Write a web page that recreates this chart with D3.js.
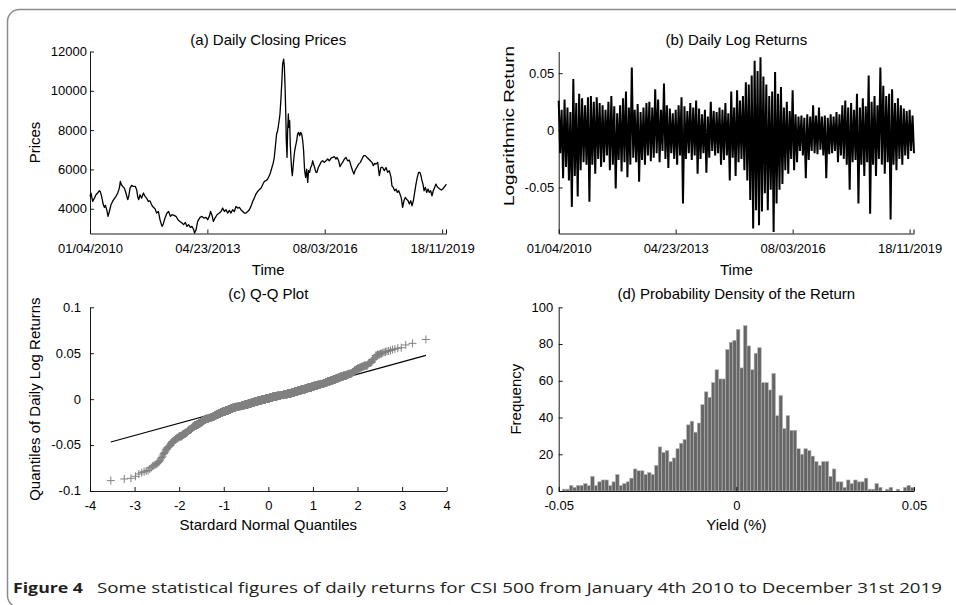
<!DOCTYPE html>
<html lang="en">
<head>
<meta charset="UTF-8" />
<title>CSI 500 daily returns</title>
<script src="https://d3js.org/d3.v7.min.js"></script>
<style>
  body { margin: 0; background: #fff; }
  svg { display: block; background: #fff; }
  text { font-family: "Liberation Sans", Arial, sans-serif; fill: #000; }
  .tick text { font-size: 13px; }
  .title, .label { font-size: 15px; }
  .caption { font-family: "Open Sans", "Noto Sans", sans-serif; font-size: 15px; fill: #231f20; }
</style>
</head>
<body>
<svg id="fig" width="956" height="605"></svg>
<script>
// ---- data ----
const timeTickDays = [1, 801, 1601, 2401];
const timeTickLabels = ["01/04/2010", "04/23/2013", "08/03/2016", "18/11/2019"];
const nDays = 2431;

// (a) closing prices, sampled [trading day, price]
const priceDay = [1,8,19,31,42,53,65,71,80,92,99,106,115,124,133,144,155,167,178,190,201,208,215,224,235,246,258,265,274,285,296,310,319,326,333,342,353,365,376,387,399,410,421,433,444,455,467,478,492,501,512,526,537,549,560,574,587,601,614,628,639,651,662,673,685,696,708,714,724,735,751,764,778,792,803,814,823,833,842,853,867,883,894,905,917,928,939,951,962,973,985,996,1008,1019,1030,1042,1053,1064,1076,1087,1098,1110,1121,1132,1144,1155,1167,1178,1189,
  1201,1212,1228,1241,1251,1257,1264,1273,1280,1287,1296,1303,1310,1314,1321,1326,1330,1335,1339,1344,1348,1353,1357,1362,1366,1371,1376,1380,1385,1389,1396,1403,1410,1416,1423,1430,1437,1444,1451,1457,1464,1471,1478,1485,1491,1498,1505,1512,1519,1525,1532,1541,1548,1557,1564,1575,1587,1598,1610,1621,1632,1644,1655,1666,1678,1685,1696,1705,1714,1723,1735,1746,1757,1769,1780,1791,1800,1809,1819,1832,1844,1855,1866,1878,1889,1900,1912,1923,1932,1941,1950,1962,1973,1984,1996,2007,2019,2030,2041,2053,2059,2068,2078,2087,2096,2105,2114,2123,2132,2141,2150,2159,2169,2178,2187,2196,2205,2214,2223,2232,2241,2250,2257,2264,2271,2278,2287,2296,2305,2314,2323,2332,2341,2350,2359,2368,2377,2386,2396,2405,2414,2423,2430];
const priceVal = [4627,4800,4370,4540,4710,4800,4915,4880,4630,4200,4070,4170,3950,3610,3860,4200,4370,4510,4630,4800,5050,5390,5220,5135,5050,4800,4460,4630,5050,5190,5135,5135,4970,4630,4460,4710,4540,4800,4630,4540,4370,4400,4200,4070,4000,3780,3860,3440,3100,3240,3525,3780,3860,3610,3695,3660,3610,3440,3355,3270,3190,3305,3100,3190,3050,3100,2930,2760,2930,3355,3560,3610,3525,3560,3440,3610,3860,3660,3355,3525,3695,3780,3860,4030,3860,3950,3780,3915,3780,3950,3860,4120,4030,4070,3950,3860,3780,3780,3860,3950,4120,4370,4540,4745,4880,4970,5050,5220,5390,
  5425,5510,5765,6100,6360,6610,7120,7800,7970,8310,8820,9665,10680,11360,11615,11190,10340,8990,7460,6610,7970,8820,8140,8480,7290,6530,5935,5680,6100,6440,6950,7205,7460,7800,7885,7715,7885,7800,7460,6950,5935,5595,6020,5340,5935,5850,6100,6190,6440,6270,6100,5850,5850,6100,6190,6360,6440,6360,6440,6530,6440,6580,6610,6650,6530,6610,6440,6140,6270,6360,6530,6610,6440,6475,6190,5935,5765,5970,6100,6270,6360,6530,6700,6700,6610,6530,6440,6360,6190,6310,6270,6360,5680,6100,6100,5935,6100,5850,5935,5595,5170,5085,4915,5000,4830,4915,4745,4540,4070,4405,4575,4490,4405,4235,4405,4150,4405,4830,5255,5595,5850,5850,5680,5425,5255,4915,5085,4830,5000,4830,4915,4660,4915,5085,5255,5120,5050,5000,4950,5000,5085,5170,5255];

// (b) log returns: highest and lowest daily value in each 20-day window
const retStep = 20;
const retHi = [0.026,0.018,0.027,0.020,0.016,0.045,0.024,0.032,0.028,0.022,0.029,0.030,0.025,0.029,0.024,0.022,0.018,0.025,0.030,0.021,0.015,0.022,0.028,0.034,0.020,0.055,0.018,0.023,0.016,0.020,0.024,0.025,0.020,0.036,0.027,0.018,0.041,0.022,0.019,0.015,0.018,0.022,0.029,0.021,0.017,0.024,0.020,0.026,0.019,0.014,0.018,0.012,0.025,0.017,0.016,0.020,0.018,0.024,0.015,0.034,0.020,0.035,0.026,0.030,0.042,0.040,0.048,0.061,0.052,0.064,0.047,0.040,0.030,0.034,0.051,0.032,0.038,0.020,0.025,0.017,0.035,0.014,0.012,0.013,0.011,0.014,0.012,0.022,0.013,0.020,0.012,0.013,0.011,0.014,0.012,0.016,0.014,0.022,0.026,0.020,0.024,0.018,0.032,0.020,0.028,0.021,0.048,0.025,0.030,0.022,0.055,0.039,0.030,0.032,0.036,0.024,0.028,0.022,0.019,0.017,0.018,0.013];
const retLo = [-0.020,-0.042,-0.032,-0.044,-0.067,-0.040,-0.058,-0.035,-0.028,-0.030,-0.0625,-0.030,-0.038,-0.025,-0.032,-0.028,-0.022,-0.035,-0.030,-0.051,-0.026,-0.036,-0.028,-0.041,-0.030,-0.024,-0.028,-0.045,-0.026,-0.030,-0.022,-0.027,-0.024,-0.020,-0.028,-0.018,-0.025,-0.033,-0.020,-0.025,-0.030,-0.022,-0.064,-0.025,-0.020,-0.026,-0.022,-0.038,-0.025,-0.020,-0.037,-0.024,-0.018,-0.022,-0.020,-0.030,-0.026,-0.022,-0.044,-0.024,-0.040,-0.028,-0.025,-0.035,-0.044,-0.061,-0.086,-0.070,-0.083,-0.071,-0.055,-0.070,-0.052,-0.089,-0.064,-0.052,-0.047,-0.035,-0.038,-0.025,-0.035,-0.028,-0.018,-0.022,-0.042,-0.026,-0.018,-0.020,-0.021,-0.017,-0.022,-0.042,-0.021,-0.020,-0.018,-0.028,-0.022,-0.025,-0.030,-0.052,-0.028,-0.026,-0.064,-0.030,-0.040,-0.028,-0.073,-0.030,-0.040,-0.025,-0.030,-0.038,-0.028,-0.078,-0.030,-0.035,-0.025,-0.030,-0.022,-0.025,-0.018,-0.020];

// (d) histogram of returns, bins of 0.001 from -0.05
const histStart = -0.05, histBin = 0.001;
const histCounts = [0,1,1,3,2,3,3,4,3,8, 3,5,6,6,3,5,9,3,4,5, 7,12,11,11,9,10,9,14,24,21, 22,16,18,23,26,28,36,38,32,37, 47,54,51,59,66,61,61,77,81,82,
  88,67,90,79,66,75,78,59,59,55, 64,41,52,34,41,33,33,23,20,23, 22,19,16,14,16,16,8,12,5,5, 2,6,4,6,5,5,7,1,1,4, 2,0,1,2,0,1,0,2,3,2];

// (c) returns outside the histogram window (sorted), read from the Q-Q tails
const lowTail = [-0.0887,-0.0869,-0.0862,-0.0840,-0.0815,-0.0800,-0.0790,-0.0782,-0.0776,-0.0760,-0.0745,-0.0730,-0.0722,-0.0715,-0.0708,-0.0700,-0.0690,-0.0680,-0.0665,-0.0650,-0.0635,-0.0620,-0.0600,-0.0590,-0.0580,-0.0565,-0.0550,-0.0540,-0.0530,-0.0525,-0.0520,-0.0515,-0.0510,-0.0505,-0.0502];
const highTail = [0.0505,0.0510,0.0515,0.0520,0.0524,0.0530,0.0540,0.0546,0.0555,0.0560,0.0590,0.0608,0.0650];

// ---- helpers ----
function norminv(p) {
  const a = [-39.69683028665376, 220.9460984245205, -275.9285104469687, 138.3577518672690, -30.66479806614716, 2.506628277459239];
  const b = [-54.47609879822406, 161.5858368580409, -155.6989798598866, 66.80131188771972, -13.28068155288572];
  const c = [-0.007784894002430293, -0.3223964580411365, -2.400758277161838, -2.549732539343734, 4.374664141464968, 2.938163982698783];
  const d = [0.007784695709041462, 0.3224671290700398, 2.445134137142996, 3.754408661907416];
  const pl = 0.02425;
  let q, r;
  if (p < pl) {
    q = Math.sqrt(-2 * Math.log(p));
    return (((((c[0]*q+c[1])*q+c[2])*q+c[3])*q+c[4])*q+c[5]) / ((((d[0]*q+d[1])*q+d[2])*q+d[3])*q+1);
  }
  if (p > 1 - pl) {
    q = Math.sqrt(-2 * Math.log(1 - p));
    return -(((((c[0]*q+c[1])*q+c[2])*q+c[3])*q+c[4])*q+c[5]) / ((((d[0]*q+d[1])*q+d[2])*q+d[3])*q+1);
  }
  q = p - 0.5; r = q * q;
  return (((((a[0]*r+a[1])*r+a[2])*r+a[3])*r+a[4])*r+a[5])*q / (((((b[0]*r+b[1])*r+b[2])*r+b[3])*r+b[4])*r+1);
}

// plain hyphen minus, like the original
const num = f => d => (d === 0 ? "0" : d3.format(f)(d)).replace("\u2212", "-");

const svg = d3.select("#fig");

// outer frame
svg.append("rect")
  .attr("x", 7.5).attr("y", 9.5)
  .attr("width", 980).attr("height", 598)
  .attr("rx", 12)
  .attr("fill", "none").attr("stroke", "#8c8c8c").attr("stroke-width", 1.5);

function axes(g, x, y, xTicks, xFmt, yTicks, yFmt, endTick, yPad) {
  const ax = g.append("g")
    .attr("transform", `translate(0,${y.range()[0]})`)
    .call(d3.axisBottom(x).tickValues(xTicks).tickFormat(xFmt)
      .tickSizeInner(-4).tickSizeOuter(0).tickPadding(10));
  if (endTick) {
    ax.append("line").attr("x1", x.range()[1]).attr("x2", x.range()[1])
      .attr("y1", 0).attr("y2", -4).attr("stroke", "#000");
  }
  g.append("g")
    .attr("transform", `translate(${x.range()[0]},0)`)
    .call(d3.axisLeft(y).tickValues(yTicks).tickFormat(yFmt)
      .tickSizeInner(-4).tickSizeOuter(0).tickPadding(yPad))
    .selectAll("text").attr("dy", "0.3em");
  g.selectAll(".domain, .tick line").attr("stroke", "#000").attr("stroke-width", 0.9);
}

function titles(g, x, y, title, xlab, ylab, ylabX, titleY, xlabY) {
  const cx = (x.range()[0] + x.range()[1]) / 2;
  const cy = (y.range()[0] + y.range()[1]) / 2;
  g.append("text").attr("class", "title").attr("x", cx).attr("y", titleY)
    .attr("text-anchor", "middle").text(title);
  g.append("text").attr("class", "label").attr("x", cx).attr("y", xlabY)
    .attr("text-anchor", "middle").text(xlab);
  return g.append("text").attr("class", "label")
    .attr("transform", `translate(${ylabX},${cy}) rotate(-90)`)
    .attr("text-anchor", "middle").text(ylab);
}

const timeFmt = d => timeTickLabels[timeTickDays.indexOf(d)];

// ---- (a) prices ----
{
  const g = svg.append("g");
  const x = d3.scaleLinear().domain([1, nDays]).range([90, 446.5]);
  const y = d3.scaleLinear().domain([2740, 12000]).range([233.5, 51.5]);
  g.append("path")
    .datum(priceDay.map((d, i) => [d, priceVal[i]]))
    .attr("fill", "none").attr("stroke", "#000").attr("stroke-width", 1.3)
    .attr("stroke-linejoin", "round")
    .attr("d", d3.line().x(d => x(d[0])).y(d => y(d[1])));
  axes(g, x, y, timeTickDays, timeFmt, [4000, 6000, 8000, 10000, 12000], d3.format("d"), true, 3);
  titles(g, x, y, "(a) Daily Closing Prices", "Time", "Prices", 40, 45, 275);
}

// ---- (b) log returns ----
{
  const g = svg.append("g");
  const x = d3.scaleLinear().domain([1, nDays]).range([558.7, 914]);
  const y = d3.scaleLinear().domain([-0.0903, 0.069]).range([233.5, 51.5]);
  const pts = [];
  retHi.forEach((h, i) => {
    pts.push([1 + i * retStep, h]);
    pts.push([1 + i * retStep + retStep / 2, retLo[i]]);
  });
  g.append("path")
    .datum(pts)
    .attr("fill", "none").attr("stroke", "#000").attr("stroke-width", 2)
    .attr("stroke-linejoin", "bevel")
    .attr("d", d3.line().x(d => x(d[0])).y(d => y(d[1])));
  axes(g, x, y, timeTickDays, timeFmt, [-0.05, 0, 0.05], num(".2f"), true, 4.5);
  // this label is drawn stretched in the original figure
  titles(g, x, y, "(b) Daily Log Returns", "Time", "Logarithmic Return", 514, 45, 275)
    .attr("transform", "translate(514,126) rotate(-90)")
    .attr("textLength", 160).attr("lengthAdjust", "spacingAndGlyphs");
}

// ---- (c) Q-Q plot ----
{
  const g = svg.append("g");
  const x = d3.scaleLinear().domain([-4, 4]).range([90, 446.7]);
  const y = d3.scaleLinear().domain([-0.1, 0.1]).range([491, 307.3]);
  const sample = lowTail.slice();
  histCounts.forEach((c, i) => {
    for (let k = 0; k < c; k++) sample.push(histStart + histBin * (i + 0.5));
  });
  highTail.forEach(v => sample.push(v));
  const n = sample.length;
  const qq = sample.map((v, k) => [norminv((k + 0.5) / n), v]);

  const q1 = d3.quantile(sample, 0.25), q3 = d3.quantile(sample, 0.75);
  const z1 = norminv(0.25), z3 = norminv(0.75);
  const slope = (q3 - q1) / (z3 - z1);
  const xa = qq[0][0], xb = qq[n - 1][0];
  g.append("line")
    .attr("x1", x(xa)).attr("y1", y(q1 + slope * (xa - z1)))
    .attr("x2", x(xb)).attr("y2", y(q1 + slope * (xb - z1)))
    .attr("stroke", "#000").attr("stroke-width", 1.2);

  const s = 4;
  g.append("path")
    .attr("fill", "none").attr("stroke", "#808080").attr("stroke-width", 1)
    .attr("d", qq.map(d => {
      const px = x(d[0]), py = y(d[1]);
      return `M${px - s},${py}H${px + s}M${px},${py - s}V${py + s}`;
    }).join(""));

  axes(g, x, y, d3.range(-4, 5), num("d"), [-0.1, -0.05, 0, 0.05, 0.1],
    d => Math.abs(d) === 0.1 ? num(".1f")(d) : num(".2f")(d), false, 9);
  titles(g, x, y, "(c) Q-Q Plot", "Stardard Normal Quantiles", "Quantiles of Daily Log Returns", 40, 299, 530);
}

// ---- (d) histogram ----
{
  const g = svg.append("g");
  const x = d3.scaleLinear().domain([-0.05, 0.05]).range([558.7, 914]);
  const y = d3.scaleLinear().domain([0, 100]).range([491, 307.3]);
  g.append("g").selectAll("rect")
    .data(histCounts)
    .join("rect")
    .attr("x", (d, i) => x(histStart + histBin * i))
    .attr("width", x(histBin) - x(0))
    .attr("y", d => y(d))
    .attr("height", d => y(0) - y(d))
    .attr("fill", "#666666").attr("stroke", "#b4b4b4").attr("stroke-width", 0.6);
  axes(g, x, y, [-0.05, 0, 0.05], num(".2f"), [0, 20, 40, 60, 80, 100], num("d"), false, 5.5);
  titles(g, x, y, "(d) Probability Density of the Return", "Yield (%)", "Frequency", 521, 299, 530);
}

// ---- caption ----
svg.append("text").attr("class", "caption")
  .attr("x", 13).attr("y", 593)
  .attr("font-weight", "bold")
  .attr("textLength", 70).attr("lengthAdjust", "spacingAndGlyphs")
  .text("Figure 4");
svg.append("text").attr("class", "caption")
  .attr("x", 97).attr("y", 593)
  .attr("textLength", 845).attr("lengthAdjust", "spacingAndGlyphs")
  .text("Some statistical figures of daily returns for CSI 500 from January 4th 2010 to December 31st 2019");
</script>
</body>
</html>
